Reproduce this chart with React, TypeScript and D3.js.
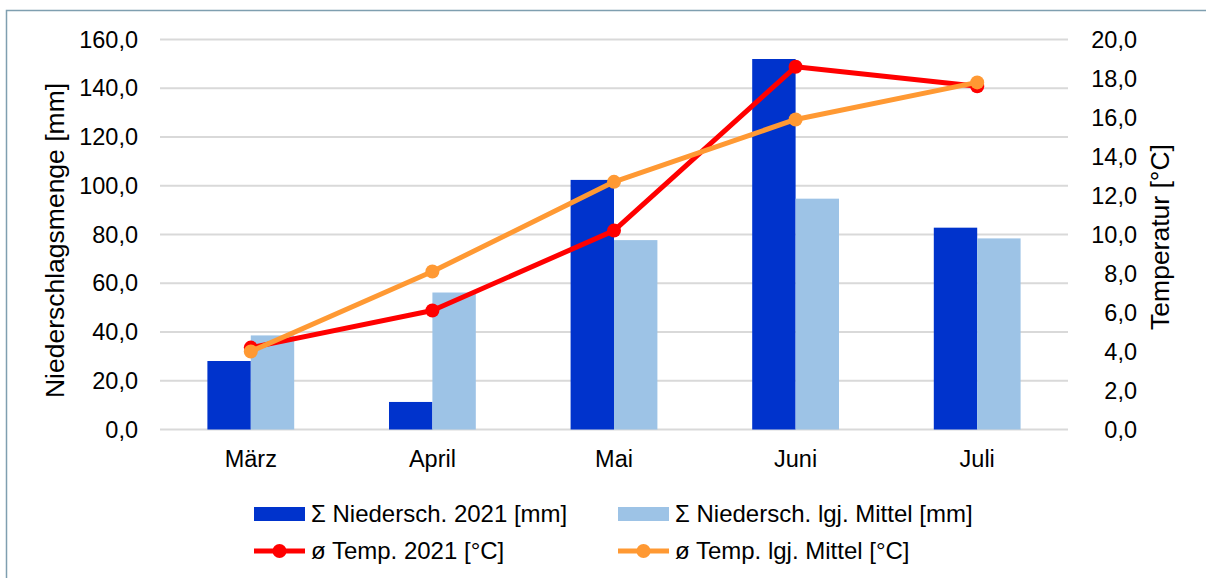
import React from "react";
import * as d3 from "d3";

const months = ["März", "April", "Mai", "Juni", "Juli"];
const precip2021 = [28.1, 11.3, 102.4, 152.0, 82.8];
const precipMean = [38.6, 56.2, 77.7, 94.7, 78.4];
const temp2021 = [4.2, 6.1, 10.2, 18.6, 17.6];
const tempMean = [4.0, 8.1, 12.7, 15.9, 17.8];
const leftTicks = [0, 20, 40, 60, 80, 100, 120, 140, 160];
const rightTicks = [0, 2, 4, 6, 8, 10, 12, 14, 16, 18, 20];

const W = 1206, H = 578;
const L = 160, R = 1068, T = 39.5, B = 429.5;
const FONT = "'Liberation Sans', Arial, sans-serif";
const C_DARK = "#0033CC", C_LIGHT = "#9DC3E6", C_RED = "#FF0000", C_ORANGE = "#FF9933";

const fmt = (v: number) => v.toFixed(1).replace(".", ",");

export default function App() {
  const x = d3.scaleBand<string>().domain(months).range([L, R]).paddingInner(0.522).paddingOuter(0.261);
  const bw = x.bandwidth() / 2;
  const yL = d3.scaleLinear().domain([0, 160]).range([B, T]);
  const yR = d3.scaleLinear().domain([0, 20]).range([B, T]);
  const cx = (m: string) => (x(m) as number) + x.bandwidth() / 2;
  const line = (vals: number[]) =>
    d3.line<number>().x((_, i) => cx(months[i])).y((v) => yR(v))(vals) as string;

  return (
    <svg width={W} height={H} style={{ position: "absolute", left: 0, top: 0 }} fontFamily={FONT}>
      <rect x={0} y={0} width={W} height={H} fill="#fff" />
      <rect x={6.5} y={10.5} width={1400} height={800} fill="none" stroke="#7F9FB0" strokeWidth={1.5} />
      {leftTicks.map((t) => (
        <line key={"g" + t} x1={L} x2={R} y1={yL(t)} y2={yL(t)} stroke="#D9D9D9" strokeWidth={2} />
      ))}
      {months.map((m, i) => (
        <g key={"b" + m}>
          <rect x={x(m)} y={yL(precip2021[i])} width={bw} height={B - yL(precip2021[i])} fill={C_DARK} />
          <rect x={(x(m) as number) + bw} y={yL(precipMean[i])} width={bw} height={B - yL(precipMean[i])} fill={C_LIGHT} />
        </g>
      ))}
      <path d={line(temp2021)} fill="none" stroke={C_RED} strokeWidth={5} strokeLinejoin="round" />
      {temp2021.map((v, i) => (
        <circle key={"r" + i} cx={cx(months[i])} cy={yR(v)} r={7} fill={C_RED} />
      ))}
      <path d={line(tempMean)} fill="none" stroke={C_ORANGE} strokeWidth={5} strokeLinejoin="round" />
      {tempMean.map((v, i) => (
        <circle key={"o" + i} cx={cx(months[i])} cy={yR(v)} r={7} fill={C_ORANGE} />
      ))}
      {leftTicks.map((t) => (
        <text key={"lt" + t} x={138} y={yL(t)} dy="0.35em" textAnchor="end" fontSize={23.5} fill="#000">{fmt(t)}</text>
      ))}
      {rightTicks.map((t) => (
        <text key={"rt" + t} x={1137} y={yR(t)} dy="0.35em" textAnchor="end" fontSize={23.5} fill="#000">{fmt(t)}</text>
      ))}
      {months.map((m) => (
        <text key={"xl" + m} x={cx(m)} y={467} textAnchor="middle" fontSize={23.5} fill="#000">{m}</text>
      ))}
      <text transform="translate(64,240.5) rotate(-90)" textAnchor="middle" fontSize={26.5} fill="#000">Niederschlagsmenge [mm]</text>
      <text transform="translate(1169,237) rotate(-90)" textAnchor="middle" fontSize={26.5} fill="#000">Temperatur [°C]</text>
      <g fontSize={24} fill="#000">
        <rect x={254} y={507} width={51} height={14} fill={C_DARK} />
        <text x={311} y={522}>Σ Niedersch. 2021 [mm]</text>
        <rect x={618} y={507} width={51} height={14} fill={C_LIGHT} />
        <text x={675} y={522}>Σ Niedersch. lgj. Mittel [mm]</text>
        <line x1={254} x2={305} y1={551} y2={551} stroke={C_RED} strokeWidth={5} />
        <circle cx={279.5} cy={551} r={7} fill={C_RED} />
        <text x={311} y={559}>ø Temp. 2021 [°C]</text>
        <line x1={618} x2={669} y1={551} y2={551} stroke={C_ORANGE} strokeWidth={5} />
        <circle cx={643.5} cy={551} r={7} fill={C_ORANGE} />
        <text x={675} y={559}>ø Temp. lgj. Mittel [°C]</text>
      </g>
    </svg>
  );
}
